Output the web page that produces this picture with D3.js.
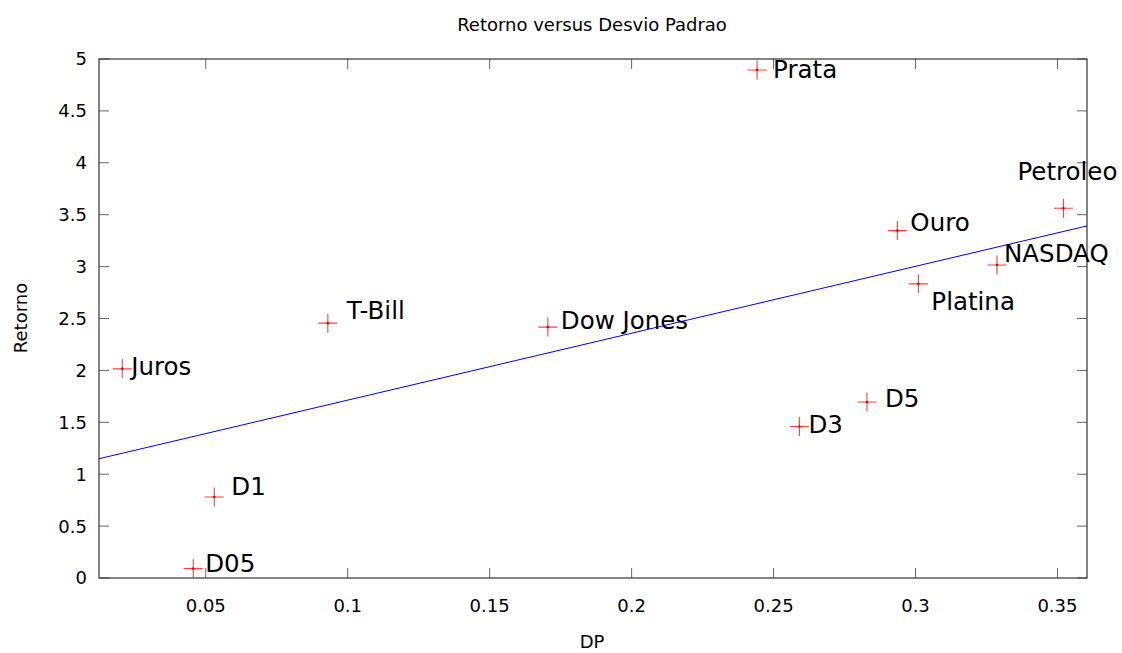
<!DOCTYPE html>
<html>
<head>
<meta charset="utf-8">
<script src="https://cdn.jsdelivr.net/npm/d3@7"></script>
<style>
  body { margin: 0; background: #fff; }
  text { font-family: "DejaVu Sans", sans-serif; fill: #000; }
</style>
</head>
<body>
<div id="chart"></div>
<script>
// asset names, risk (DP) and return values
var names = ["Prata", "Petroleo", "Ouro", "NASDAQ", "Platina", "T-Bill", "Dow Jones", "Juros", "D5", "D3", "D1", "D05"];
var dpValues = [0.2442, 0.3521, 0.2936, 0.3287, 0.3010, 0.0930, 0.1705, 0.0206, 0.2829, 0.2591, 0.0530, 0.0456];
var retValues = [4.894, 3.562, 3.347, 3.015, 2.834, 2.455, 2.417, 2.015, 1.695, 1.460, 0.780, 0.090];

// fitted line, endpoints at the plot edges
var fitX = [0.0124, 0.3604];
var fitY = [1.149, 3.392];

var xTicks = [0.05, 0.1, 0.15, 0.2, 0.25, 0.3, 0.35];
var yTicks = [0, 0.5, 1, 1.5, 2, 2.5, 3, 3.5, 4, 4.5, 5];

// label placement relative to each point (pixels, text baseline)
var labelOffsets = [[16, 8], [-46, -28], [13, 0], [7, -3], [13, 26], [19, -4], [13, 2], [9, 6], [18, 5], [9, 7], [17, -2], [12, 3]];

var w = 1122, h = 653;
var margin = { top: 59, right: 35, bottom: 75, left: 99 };
var width = w - margin.left - margin.right;
var height = h - margin.top - margin.bottom;

var svg = d3.select("#chart").append("svg")
    .attr("width", w)
    .attr("height", h);

var g = svg.append("g")
    .attr("transform", `translate(${margin.left},${margin.top})`);

var x = d3.scaleLinear().domain([0.0124, 0.3604]).range([0, width]);
var y = d3.scaleLinear().domain([0, 5]).range([height, 0]);

// title and axis labels
svg.append("text")
    .attr("x", 592).attr("y", 31)
    .attr("text-anchor", "middle")
    .style("font-size", "18px")
    .text("Retorno versus Desvio Padrao");

svg.append("text")
    .attr("x", 592).attr("y", 648)
    .attr("text-anchor", "middle")
    .style("font-size", "18px")
    .text("DP");

svg.append("text")
    .attr("transform", "translate(27,318) rotate(-90)")
    .attr("text-anchor", "middle")
    .style("font-size", "18px")
    .text("Retorno");

// ticks (gnuplot style: inward, mirrored)
var tickLen = 10;
var tickColor = "#666";

g.selectAll(".xt").data(xTicks).enter().append("line")
    .attr("x1", d => x(d)).attr("x2", d => x(d))
    .attr("y1", height).attr("y2", height - tickLen)
    .attr("stroke", tickColor);
g.selectAll(".xt2").data(xTicks).enter().append("line")
    .attr("x1", d => x(d)).attr("x2", d => x(d))
    .attr("y1", 0).attr("y2", tickLen)
    .attr("stroke", tickColor);
g.selectAll(".yt").data(yTicks).enter().append("line")
    .attr("x1", 0).attr("x2", tickLen)
    .attr("y1", d => y(d)).attr("y2", d => y(d))
    .attr("stroke", tickColor);
g.selectAll(".yt2").data(yTicks).enter().append("line")
    .attr("x1", width).attr("x2", width - tickLen)
    .attr("y1", d => y(d)).attr("y2", d => y(d))
    .attr("stroke", tickColor);

g.selectAll(".xl").data(xTicks).enter().append("text")
    .attr("x", d => x(d)).attr("y", height + 34)
    .attr("text-anchor", "middle")
    .style("font-size", "18px")
    .text(d => d);
g.selectAll(".yl").data(yTicks).enter().append("text")
    .attr("x", -12).attr("y", d => y(d))
    .attr("dy", "0.36em")
    .attr("text-anchor", "end")
    .style("font-size", "18px")
    .text(d => d);

// border
g.append("rect")
    .attr("width", width).attr("height", height)
    .attr("fill", "none")
    .attr("stroke", "#333")
    .attr("stroke-width", 1.2);

// fitted line
g.append("line")
    .attr("x1", x(fitX[0])).attr("y1", y(fitY[0]))
    .attr("x2", x(fitX[1])).attr("y2", y(fitY[1]))
    .attr("stroke", "#0000ff")
    .attr("stroke-width", 1);

// points as red plus markers
var pts = g.selectAll(".pt").data(names).enter().append("g")
    .attr("transform", (d, i) => `translate(${x(dpValues[i])},${y(retValues[i])})`);
pts.append("path")
    .attr("d", "M-9.5,0H9.5M0,-9.5V9.5")
    .attr("stroke", "#ff2020")
    .attr("stroke-opacity", 0.85)
    .attr("stroke-width", 1.1);
pts.append("circle")
    .attr("r", 1.3)
    .attr("fill", "#e00000");
pts.append("text")
    .attr("x", (d, i) => labelOffsets[i][0])
    .attr("y", (d, i) => labelOffsets[i][1])
    .style("font-size", "24.5px")
    .text(d => d);
</script>
</body>
</html>
